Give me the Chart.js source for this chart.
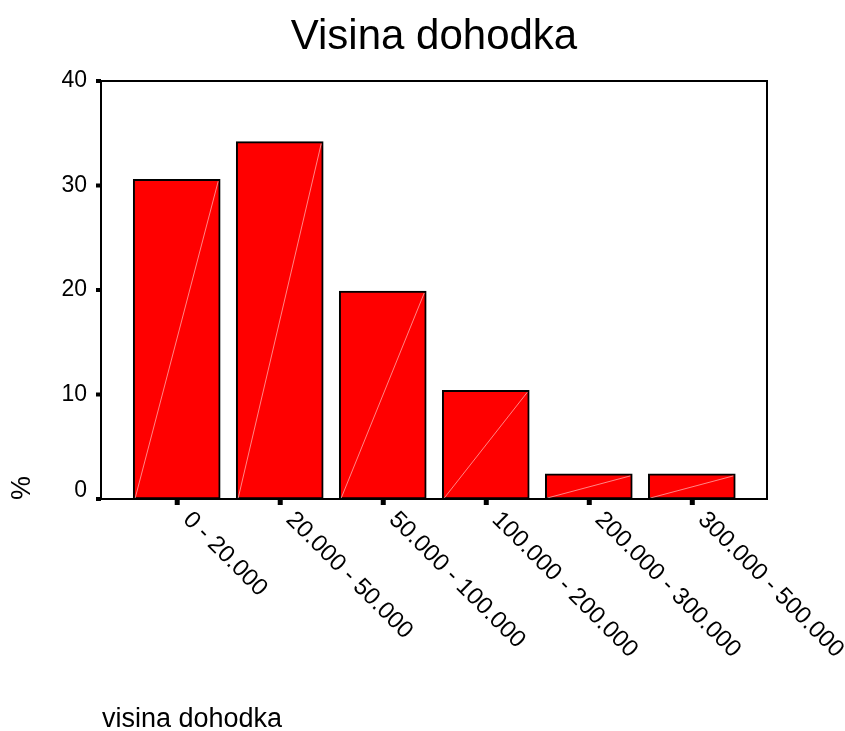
<!DOCTYPE html>
<html>
<head>
<meta charset="utf-8">
<script src="https://cdn.jsdelivr.net/npm/chart.js@4"></script>
<style>
    body { margin: 0; background: #fff; }
    #wrap { width: 845px; height: 731px; }
</style>
</head>
<body>
<div id="wrap"><canvas id="incomeChart" width="845" height="731"></canvas></div>
<script>
// Chart data (percent of respondents per income band)
const categories = ['0 - 20.000', '20.000 - 50.000', '50.000 - 100.000', '100.000 - 200.000', '200.000 - 300.000', '300.000 - 500.000'];
const percentValues = [30.6, 34.2, 19.9, 10.4, 2.4, 2.4];
const yTicks = [0, 10, 20, 30, 40];

const chartTitle = 'Visina dohodka';
const xTitle = 'visina dohodka';
const yTitle = '%';

const FONT = '"Liberation Sans", Arial, sans-serif';

/**
 * Draws the SPSS-style frame, tick marks, labels and titles
 */
const spssDecor = {
    id: 'spssDecor',
    afterDatasetsDraw(chart) {
        const ctx = chart.ctx;
        const area = chart.chartArea;
        const xs = chart.scales.x;
        const ys = chart.scales.y;

        ctx.save();

        // faint diagonal inside each bar
        const meta = chart.getDatasetMeta(0);
        ctx.strokeStyle = 'rgba(255, 190, 190, 0.7)';
        ctx.lineWidth = 1;
        meta.data.forEach(bar => {
            const half = bar.width / 2;
            ctx.beginPath();
            ctx.moveTo(bar.x - half + 2, bar.base - 1);
            ctx.lineTo(bar.x + half - 2, bar.y + 2);
            ctx.stroke();
        });

        // frame
        ctx.strokeStyle = '#000';
        ctx.lineWidth = 2;
        ctx.strokeRect(area.left, area.top, area.right - area.left, area.bottom - area.top);

        // y ticks + labels
        ctx.fillStyle = '#000';
        ctx.font = '23px ' + FONT;
        ctx.textAlign = 'right';
        ctx.textBaseline = 'middle';
        yTicks.forEach(v => {
            const py = ys.getPixelForValue(v);
            ctx.fillRect(area.left - 5, py - 2, 5, 4);
            const shift = v === 0 ? -8 : 0;
            ctx.fillText(String(v), area.left - 14, py + shift);
        });

        // x ticks + rotated labels
        ctx.font = '24px ' + FONT;
        ctx.textAlign = 'left';
        categories.forEach((label, i) => {
            const px = xs.getPixelForValue(i);
            ctx.fillRect(px - 2, area.bottom + 1, 5, 5);
            ctx.save();
            ctx.translate(px + 10, area.bottom + 17);
            ctx.rotate(Math.PI / 4);
            ctx.fillText(label, 0, 0);
            ctx.restore();
        });

        // title
        ctx.font = '42px ' + FONT;
        ctx.textAlign = 'center';
        ctx.textBaseline = 'alphabetic';
        ctx.fillText(chartTitle, (area.left + area.right) / 2, 49);

        // axis titles
        ctx.font = '27px ' + FONT;
        ctx.textAlign = 'left';
        ctx.fillText(xTitle, 102, 727);

        ctx.save();
        ctx.translate(30, 488);
        ctx.rotate(-Math.PI / 2);
        ctx.font = '27px ' + FONT;
        ctx.textAlign = 'center';
        ctx.fillText(yTitle, 0, 0);
        ctx.restore();

        ctx.restore();
    }
};

const ctx = document.getElementById('incomeChart').getContext('2d');
new Chart(ctx, {
    type: 'bar',
    data: {
        datasets: [{
            data: percentValues.map((v, i) => ({ x: i, y: v })),
            backgroundColor: '#ff0000',
            borderColor: '#000',
            borderWidth: 2,
            borderSkipped: false,
            barThickness: 87
        }]
    },
    options: {
        responsive: false,
        animation: false,
        devicePixelRatio: 1,
        layout: {
            padding: { left: 101, top: 81, right: 78, bottom: 232 }
        },
        plugins: {
            legend: { display: false },
            tooltip: { enabled: false },
            title: { display: false }
        },
        scales: {
            x: {
                type: 'linear',
                display: false,
                offset: false,
                min: -0.735,
                max: 5.73
            },
            y: {
                display: false,
                min: 0,
                max: 40
            }
        }
    },
    plugins: [spssDecor]
});
</script>
</body>
</html>
